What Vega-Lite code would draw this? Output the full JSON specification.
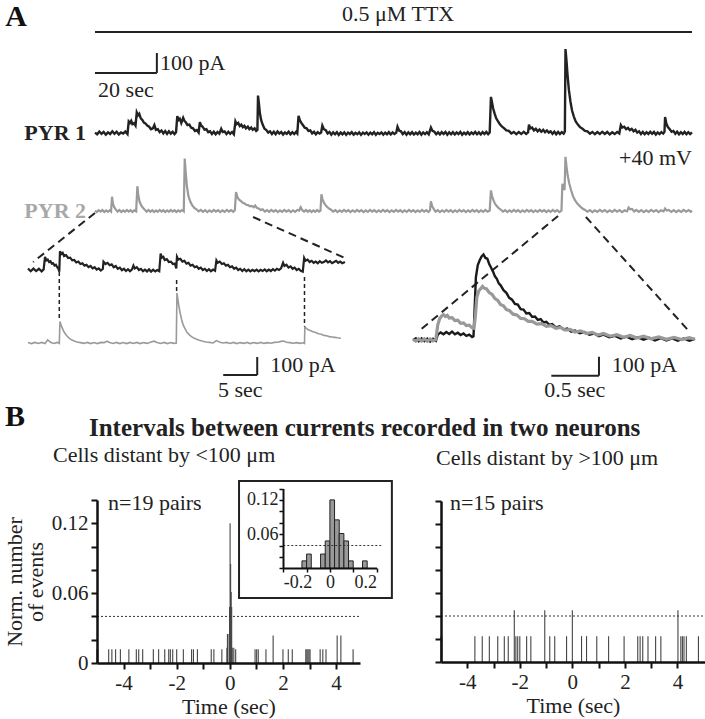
{
"$schema": "https://vega.github.io/schema/vega-lite/v6.json",
"width": 705, "height": 719, "autosize": {"type": "none"}, "padding": 0, "background": "white",
"config": {"view": {"stroke": null}, "font": "Liberation Serif",
  "axis": {"grid": false, "zindex": 1, "domainColor": "#111", "tickColor": "#111", "labelColor": "#222", "titleColor": "#222", "labelFont": "Liberation Serif", "titleFont": "Liberation Serif", "titleFontWeight": "normal"}},
"resolve": {"scale": {"x": "independent", "y": "independent"}},
"layer": [
{
 "encoding": {
  "x": {"field": "t", "type": "quantitative", "scale": {"domain": [0, 193], "range": [95, 692], "nice": false, "zero": false}, "axis": null},
  "y": {"field": "v", "type": "quantitative", "scale": {"domain": [0, 400], "range": [133, 49], "nice": false, "zero": false}, "axis": null}
 },
 "layer": [
  {"data": {"values": [
{"t":0,"v":2},{"t":0.7,"v":-6},{"t":1.4,"v":7},{"t":2.1,"v":-4},{"t":2.8,"v":5},{"t":3.5,"v":-8},{"t":4.2,"v":3},{"t":4.9,"v":-5},{"t":5.6,"v":8},{"t":6.3,"v":-4},{"t":7,"v":6},{"t":7.7,"v":-7},{"t":8.4,"v":3},{"t":9.1,"v":-3},{"t":9.8,"v":7},{"t":10.5,"v":-5},{"t":10.9,"v":55},{"t":11.3,"v":48},{"t":11.7,"v":58},{"t":12.1,"v":42},{"t":12.6,"v":47},{"t":13.1,"v":35},{"t":13.5,"v":98},{"t":13.9,"v":85},{"t":14.3,"v":92},{"t":14.8,"v":70},{"t":15.3,"v":62},{"t":15.8,"v":50},{"t":16.3,"v":46},{"t":16.9,"v":35},{"t":17.5,"v":30},{"t":18.1,"v":18},{"t":18.7,"v":22},{"t":19.2,"v":38},{"t":19.7,"v":15},{"t":20.3,"v":18},{"t":20.9,"v":4},{"t":21.5,"v":12},{"t":22.1,"v":-2},{"t":22.7,"v":9},{"t":23.3,"v":-4},{"t":23.9,"v":8},{"t":24.5,"v":-3},{"t":25.1,"v":6},{"t":25.7,"v":-5},{"t":26.2,"v":4},{"t":26.6,"v":80},{"t":27,"v":62},{"t":27.4,"v":68},{"t":27.9,"v":48},{"t":28.5,"v":72},{"t":28.9,"v":58},{"t":29.4,"v":50},{"t":29.9,"v":38},{"t":30.5,"v":40},{"t":31.1,"v":25},{"t":31.7,"v":22},{"t":32.3,"v":10},{"t":32.9,"v":14},{"t":33.5,"v":2},{"t":33.9,"v":52},{"t":34.3,"v":36},{"t":34.8,"v":30},{"t":35.4,"v":16},{"t":36,"v":18},{"t":36.6,"v":4},{"t":37.2,"v":8},{"t":37.8,"v":-5},{"t":38.4,"v":6},{"t":39,"v":-6},{"t":39.6,"v":5},{"t":40.2,"v":-3},{"t":40.8,"v":20},{"t":41.3,"v":5},{"t":41.9,"v":8},{"t":42.5,"v":-5},{"t":43.1,"v":6},{"t":43.7,"v":-4},{"t":44.3,"v":5},{"t":44.9,"v":-6},{"t":45.4,"v":55},{"t":45.8,"v":42},{"t":46.3,"v":48},{"t":46.8,"v":33},{"t":47.3,"v":40},{"t":47.8,"v":28},{"t":48.3,"v":34},{"t":48.8,"v":22},{"t":49.4,"v":30},{"t":49.9,"v":18},{"t":50.5,"v":26},{"t":51,"v":15},{"t":51.6,"v":22},{"t":52.1,"v":10},{"t":52.5,"v":15},{"t":52.7,"v":178},{"t":53,"v":140},{"t":53.3,"v":95},{"t":53.7,"v":62},{"t":54.2,"v":40},{"t":54.8,"v":20},{"t":55.4,"v":14},{"t":56,"v":2},{"t":56.6,"v":8},{"t":57.2,"v":-5},{"t":57.8,"v":6},{"t":58.4,"v":-6},{"t":59,"v":7},{"t":59.6,"v":-3},{"t":60.2,"v":5},{"t":60.8,"v":-7},{"t":61.4,"v":3},{"t":62,"v":-4},{"t":62.6,"v":6},{"t":63.2,"v":-6},{"t":63.8,"v":4},{"t":64.4,"v":-5},{"t":65,"v":5},{"t":65.4,"v":-2},{"t":65.8,"v":82},{"t":66.2,"v":62},{"t":66.7,"v":48},{"t":67.2,"v":38},{"t":67.8,"v":25},{"t":68.4,"v":22},{"t":69,"v":10},{"t":69.6,"v":12},{"t":70.2,"v":-2},{"t":70.8,"v":6},{"t":71.4,"v":-6},{"t":72,"v":4},{"t":72.6,"v":-3},{"t":73.1,"v":2},{"t":73.5,"v":35},{"t":74,"v":18},{"t":74.6,"v":14},{"t":75.2,"v":-2},{"t":75.8,"v":5},{"t":76.4,"v":-8},{"t":77,"v":3},{"t":77.6,"v":-6},{"t":78.2,"v":4},{"t":78.8,"v":-9},{"t":79.4,"v":2},{"t":80,"v":-6},{"t":80.6,"v":3},{"t":81.2,"v":-9},{"t":81.8,"v":2},{"t":82.4,"v":-5},{"t":83,"v":4},{"t":83.6,"v":-8},{"t":84.2,"v":1},{"t":84.8,"v":-6},{"t":85.4,"v":3},{"t":86,"v":-9},{"t":86.6,"v":2},{"t":87.2,"v":-5},{"t":87.8,"v":3},{"t":88.4,"v":-8},{"t":89,"v":2},{"t":89.6,"v":-6},{"t":90.2,"v":4},{"t":90.8,"v":-9},{"t":91.4,"v":1},{"t":92,"v":-5},{"t":92.6,"v":3},{"t":93.2,"v":-8},{"t":93.8,"v":2},{"t":94.4,"v":-6},{"t":95,"v":4},{"t":95.6,"v":-7},{"t":96.2,"v":3},{"t":96.8,"v":-5},{"t":97.4,"v":2},{"t":97.8,"v":30},{"t":98.3,"v":12},{"t":98.9,"v":8},{"t":99.5,"v":-5},{"t":100.1,"v":4},{"t":100.7,"v":-8},{"t":101.3,"v":3},{"t":101.9,"v":-6},{"t":102.5,"v":4},{"t":103.1,"v":-7},{"t":103.7,"v":2},{"t":104.3,"v":-6},{"t":104.9,"v":5},{"t":105.5,"v":-8},{"t":106.1,"v":3},{"t":106.7,"v":-5},{"t":107.3,"v":4},{"t":107.9,"v":-6},{"t":108.6,"v":26},{"t":109.1,"v":10},{"t":109.7,"v":6},{"t":110.3,"v":-6},{"t":110.9,"v":3},{"t":111.5,"v":-7},{"t":112.1,"v":4},{"t":112.7,"v":-5},{"t":113.3,"v":5},{"t":113.9,"v":-8},{"t":114.5,"v":3},{"t":115.1,"v":-6},{"t":115.7,"v":4},{"t":116.3,"v":-7},{"t":116.9,"v":3},{"t":117.5,"v":-5},{"t":118.1,"v":5},{"t":118.7,"v":-8},{"t":119.3,"v":2},{"t":119.9,"v":-6},{"t":120.5,"v":4},{"t":121.1,"v":-7},{"t":121.7,"v":3},{"t":122.3,"v":-5},{"t":122.9,"v":5},{"t":123.5,"v":-6},{"t":124.1,"v":3},{"t":124.7,"v":-7},{"t":125.3,"v":4},{"t":125.9,"v":-5},{"t":126.5,"v":5},{"t":127.1,"v":-6},{"t":127.6,"v":2},{"t":128,"v":172},{"t":128.3,"v":150},{"t":128.7,"v":118},{"t":129.2,"v":92},{"t":129.7,"v":70},{"t":130.3,"v":55},{"t":130.9,"v":42},{"t":131.6,"v":30},{"t":132.3,"v":22},{"t":133,"v":12},{"t":133.8,"v":10},{"t":134.6,"v":-2},{"t":135.4,"v":5},{"t":136.2,"v":-6},{"t":137,"v":4},{"t":137.8,"v":-5},{"t":138.6,"v":6},{"t":139.4,"v":-4},{"t":140,"v":3},{"t":140.3,"v":40},{"t":140.7,"v":22},{"t":141.3,"v":26},{"t":141.9,"v":12},{"t":142.5,"v":20},{"t":143.1,"v":8},{"t":143.7,"v":17},{"t":144.3,"v":6},{"t":144.9,"v":15},{"t":145.5,"v":4},{"t":146.1,"v":12},{"t":146.7,"v":2},{"t":147.3,"v":8},{"t":147.9,"v":-4},{"t":148.5,"v":6},{"t":149.1,"v":-6},{"t":149.7,"v":5},{"t":150.3,"v":-5},{"t":150.9,"v":4},{"t":151.5,"v":-3},{"t":151.9,"v":8},{"t":152.1,"v":400},{"t":152.4,"v":350},{"t":152.8,"v":270},{"t":153.2,"v":205},{"t":153.7,"v":150},{"t":154.2,"v":108},{"t":154.8,"v":78},{"t":155.4,"v":55},{"t":156.1,"v":40},{"t":156.8,"v":28},{"t":157.6,"v":20},{"t":158.4,"v":10},{"t":159.2,"v":8},{"t":160,"v":-3},{"t":160.8,"v":5},{"t":161.6,"v":-6},{"t":162.4,"v":4},{"t":163.2,"v":-5},{"t":164,"v":6},{"t":164.8,"v":-4},{"t":165.6,"v":5},{"t":166.4,"v":-7},{"t":167.2,"v":3},{"t":168,"v":-5},{"t":168.8,"v":5},{"t":169.5,"v":-2},{"t":170,"v":38},{"t":170.5,"v":26},{"t":171.1,"v":30},{"t":171.7,"v":18},{"t":172.3,"v":24},{"t":172.9,"v":14},{"t":173.5,"v":20},{"t":174.1,"v":8},{"t":174.7,"v":15},{"t":175.3,"v":2},{"t":175.9,"v":8},{"t":176.5,"v":-5},{"t":177.1,"v":5},{"t":177.7,"v":-6},{"t":178.3,"v":4},{"t":178.9,"v":-5},{"t":179.5,"v":6},{"t":180.1,"v":-4},{"t":180.7,"v":5},{"t":181.3,"v":-7},{"t":181.9,"v":3},{"t":182.5,"v":-5},{"t":183.1,"v":4},{"t":183.7,"v":-3},{"t":184.1,"v":5},{"t":184.3,"v":76},{"t":184.7,"v":45},{"t":185.2,"v":28},{"t":185.8,"v":18},{"t":186.4,"v":6},{"t":187,"v":10},{"t":187.6,"v":-4},{"t":188.2,"v":6},{"t":188.8,"v":-6},{"t":189.4,"v":4},{"t":190,"v":-5},{"t":190.6,"v":5},{"t":191.2,"v":-6},{"t":191.8,"v":4},{"t":192.4,"v":-5},{"t":193,"v":3}
  ]}, "mark": {"type": "line", "color": "#222", "strokeWidth": 2.4}},
  {"data": {"values": [{"t": 0, "v": 481, "t2": 193, "v2": 481}, {"t": 0, "v": 286, "t2": 20, "v2": 286}, {"t": 20, "v": 286, "t2": 20, "v2": 381}]},
   "mark": {"type": "rule", "color": "#222", "strokeWidth": 2}, "encoding": {"x2": {"field": "t2"}, "y2": {"field": "v2"}}},
  {"data": {"values": [{"t": -29, "v": 552, "label": "A"}]}, "mark": {"type": "text", "font": "Liberation Serif", "fontSize": 30, "fontWeight": "bold", "align": "left", "baseline": "middle", "color": "#111"}, "encoding": {"text": {"field": "label"}}},
  {"data": {"values": [{"t": 98, "v": 567, "label": "0.5 μM TTX"}]}, "mark": {"type": "text", "font": "Liberation Serif", "fontSize": 22, "align": "center", "baseline": "middle", "color": "#222"}, "encoding": {"text": {"field": "label"}}},
  {"data": {"values": [{"t": 21, "v": 333, "label": "100 pA"}, {"t": 1, "v": 205, "label": "20 sec"}]}, "mark": {"type": "text", "font": "Liberation Serif", "fontSize": 22, "align": "left", "baseline": "middle", "color": "#222"}, "encoding": {"text": {"field": "label"}}},
  {"data": {"values": [{"t": -2.9, "v": 0, "label": "PYR 1"}]}, "mark": {"type": "text", "font": "Liberation Serif", "fontSize": 22, "fontWeight": "bold", "align": "right", "baseline": "middle", "color": "#222"}, "encoding": {"text": {"field": "label"}}},
  {"data": {"values": [{"t": 193, "v": -119, "label": "+40 mV"}]}, "mark": {"type": "text", "font": "Liberation Serif", "fontSize": 22, "align": "right", "baseline": "middle", "color": "#222"}, "encoding": {"text": {"field": "label"}}}
 ]
},
{
 "encoding": {
  "x": {"field": "t", "type": "quantitative", "scale": {"domain": [0, 193], "range": [95, 692], "nice": false, "zero": false}, "axis": null},
  "y": {"field": "v", "type": "quantitative", "scale": {"domain": [0, 400], "range": [211, 127], "nice": false, "zero": false}, "axis": null}
 },
 "layer": [
  {"data": {"values": [
{"t":0,"v":2},{"t":0.6,"v":-5},{"t":1.2,"v":4},{"t":1.8,"v":-3},{"t":2.4,"v":5},{"t":3,"v":-5},{"t":3.6,"v":3},{"t":4.2,"v":-4},{"t":4.8,"v":4},{"t":5.2,"v":-2},{"t":5.5,"v":68},{"t":5.8,"v":35},{"t":6.2,"v":18},{"t":6.7,"v":8},{"t":7.3,"v":-3},{"t":7.9,"v":5},{"t":8.5,"v":-5},{"t":9.1,"v":3},{"t":9.7,"v":-4},{"t":10.3,"v":5},{"t":10.9,"v":-3},{"t":11.5,"v":4},{"t":12.1,"v":-5},{"t":12.7,"v":3},{"t":13.3,"v":-2},{"t":13.7,"v":118},{"t":14,"v":75},{"t":14.4,"v":45},{"t":14.9,"v":28},{"t":15.5,"v":15},{"t":16.1,"v":6},{"t":16.7,"v":-3},{"t":17.3,"v":5},{"t":17.9,"v":-4},{"t":18.5,"v":4},{"t":19.1,"v":-5},{"t":19.7,"v":3},{"t":20.3,"v":-4},{"t":20.9,"v":5},{"t":21.5,"v":-3},{"t":22.1,"v":4},{"t":22.7,"v":-5},{"t":23.3,"v":3},{"t":23.9,"v":-4},{"t":24.5,"v":5},{"t":25.1,"v":-3},{"t":25.7,"v":4},{"t":26.3,"v":-5},{"t":26.9,"v":3},{"t":27.5,"v":-3},{"t":28.1,"v":4},{"t":28.7,"v":-2},{"t":29,"v":250},{"t":29.3,"v":190},{"t":29.7,"v":120},{"t":30.2,"v":72},{"t":30.8,"v":45},{"t":31.4,"v":28},{"t":32.1,"v":15},{"t":32.8,"v":8},{"t":33.5,"v":-2},{"t":34.2,"v":5},{"t":34.9,"v":-4},{"t":35.6,"v":4},{"t":36.3,"v":-5},{"t":37,"v":3},{"t":37.7,"v":-4},{"t":38.4,"v":5},{"t":39.1,"v":-3},{"t":39.8,"v":4},{"t":40.5,"v":-5},{"t":41.2,"v":3},{"t":41.9,"v":-4},{"t":42.6,"v":5},{"t":43.3,"v":-3},{"t":44,"v":4},{"t":44.7,"v":-4},{"t":45.2,"v":3},{"t":45.6,"v":90},{"t":46,"v":68},{"t":46.5,"v":55},{"t":47.1,"v":48},{"t":47.7,"v":40},{"t":48.3,"v":36},{"t":48.9,"v":30},{"t":49.5,"v":28},{"t":50.1,"v":22},{"t":50.7,"v":24},{"t":51.3,"v":18},{"t":51.8,"v":26},{"t":52.3,"v":15},{"t":52.9,"v":12},{"t":53.5,"v":5},{"t":54.2,"v":8},{"t":54.9,"v":-3},{"t":55.6,"v":4},{"t":56.3,"v":-4},{"t":57,"v":5},{"t":57.7,"v":-3},{"t":58.4,"v":4},{"t":59.1,"v":-5},{"t":59.8,"v":3},{"t":60.5,"v":-4},{"t":61.2,"v":5},{"t":61.9,"v":-3},{"t":62.6,"v":4},{"t":63.3,"v":-5},{"t":64,"v":3},{"t":64.7,"v":-4},{"t":65.4,"v":5},{"t":66,"v":2},{"t":66.5,"v":18},{"t":67,"v":4},{"t":67.6,"v":-3},{"t":68.2,"v":5},{"t":68.8,"v":-4},{"t":69.4,"v":4},{"t":70,"v":-5},{"t":70.6,"v":3},{"t":71.2,"v":-4},{"t":71.8,"v":5},{"t":72.4,"v":-3},{"t":72.9,"v":2},{"t":73.2,"v":80},{"t":73.5,"v":58},{"t":73.9,"v":42},{"t":74.4,"v":30},{"t":75,"v":20},{"t":75.6,"v":12},{"t":76.3,"v":6},{"t":77,"v":-3},{"t":77.7,"v":4},{"t":78.4,"v":-5},{"t":79.1,"v":3},{"t":79.8,"v":-4},{"t":80.5,"v":5},{"t":81.2,"v":-3},{"t":81.9,"v":4},{"t":82.6,"v":-5},{"t":83.3,"v":3},{"t":84,"v":-4},{"t":84.7,"v":5},{"t":85.4,"v":-3},{"t":86.1,"v":4},{"t":86.8,"v":-5},{"t":87.5,"v":3},{"t":88.2,"v":-4},{"t":88.9,"v":5},{"t":89.6,"v":-3},{"t":90.3,"v":4},{"t":91,"v":-5},{"t":91.7,"v":3},{"t":92.4,"v":-4},{"t":93.1,"v":5},{"t":93.8,"v":-3},{"t":94.5,"v":4},{"t":95.2,"v":-5},{"t":95.9,"v":3},{"t":96.6,"v":-4},{"t":97.3,"v":5},{"t":98,"v":-3},{"t":98.7,"v":4},{"t":99.4,"v":-5},{"t":100.1,"v":3},{"t":100.8,"v":-4},{"t":101.5,"v":5},{"t":102.2,"v":-3},{"t":102.9,"v":4},{"t":103.6,"v":-5},{"t":104.3,"v":3},{"t":105,"v":-4},{"t":105.7,"v":5},{"t":106.4,"v":-3},{"t":107.1,"v":4},{"t":107.8,"v":-5},{"t":108.3,"v":3},{"t":108.6,"v":46},{"t":109,"v":22},{"t":109.5,"v":10},{"t":110.1,"v":-3},{"t":110.8,"v":4},{"t":111.5,"v":-5},{"t":112.2,"v":3},{"t":112.9,"v":-4},{"t":113.6,"v":5},{"t":114.3,"v":-3},{"t":115,"v":4},{"t":115.7,"v":-5},{"t":116.4,"v":3},{"t":117.1,"v":-4},{"t":117.8,"v":5},{"t":118.5,"v":-3},{"t":119.2,"v":4},{"t":119.9,"v":-5},{"t":120.6,"v":3},{"t":121.3,"v":-4},{"t":122,"v":5},{"t":122.7,"v":-3},{"t":123.4,"v":4},{"t":124.1,"v":-5},{"t":124.8,"v":3},{"t":125.5,"v":-4},{"t":126.2,"v":5},{"t":126.9,"v":-3},{"t":127.6,"v":2},{"t":128,"v":98},{"t":128.3,"v":75},{"t":128.7,"v":55},{"t":129.2,"v":38},{"t":129.8,"v":25},{"t":130.5,"v":14},{"t":131.2,"v":6},{"t":131.9,"v":-3},{"t":132.6,"v":4},{"t":133.3,"v":-5},{"t":134,"v":3},{"t":134.7,"v":-4},{"t":135.4,"v":5},{"t":136.1,"v":-3},{"t":136.8,"v":4},{"t":137.5,"v":-5},{"t":138.2,"v":3},{"t":138.9,"v":-4},{"t":139.6,"v":5},{"t":140.3,"v":-3},{"t":141,"v":4},{"t":141.7,"v":-5},{"t":142.4,"v":3},{"t":143.1,"v":-4},{"t":143.8,"v":5},{"t":144.5,"v":-3},{"t":145.2,"v":4},{"t":145.9,"v":-5},{"t":146.6,"v":3},{"t":147.3,"v":-4},{"t":148,"v":5},{"t":148.7,"v":-3},{"t":149.4,"v":4},{"t":150.1,"v":-5},{"t":150.8,"v":2},{"t":151.1,"v":130},{"t":151.4,"v":112},{"t":151.8,"v":100},{"t":152.1,"v":258},{"t":152.4,"v":215},{"t":152.8,"v":170},{"t":153.3,"v":132},{"t":153.9,"v":100},{"t":154.5,"v":72},{"t":155.2,"v":50},{"t":156,"v":34},{"t":156.8,"v":22},{"t":157.6,"v":12},{"t":158.4,"v":5},{"t":159.2,"v":-3},{"t":160,"v":4},{"t":160.8,"v":-5},{"t":161.6,"v":3},{"t":162.4,"v":-4},{"t":163.2,"v":5},{"t":164,"v":-3},{"t":164.8,"v":4},{"t":165.6,"v":-5},{"t":166.4,"v":3},{"t":167.2,"v":-4},{"t":168,"v":5},{"t":168.8,"v":-3},{"t":169.6,"v":4},{"t":170.4,"v":-5},{"t":171.2,"v":3},{"t":172,"v":-2},{"t":172.5,"v":16},{"t":173,"v":8},{"t":173.6,"v":10},{"t":174.3,"v":-2},{"t":175,"v":5},{"t":175.8,"v":-4},{"t":176.6,"v":4},{"t":177.4,"v":-5},{"t":178.2,"v":3},{"t":179,"v":-4},{"t":179.8,"v":5},{"t":180.6,"v":-3},{"t":181.4,"v":4},{"t":182.2,"v":-5},{"t":183,"v":3},{"t":183.8,"v":-2},{"t":184.3,"v":12},{"t":184.8,"v":2},{"t":185.5,"v":5},{"t":186.3,"v":-4},{"t":187.1,"v":4},{"t":187.9,"v":-5},{"t":188.7,"v":3},{"t":189.5,"v":-4},{"t":190.3,"v":5},{"t":191.1,"v":-3},{"t":191.9,"v":4},{"t":192.6,"v":-4},{"t":193,"v":2}
  ]}, "mark": {"type": "line", "color": "#9a9a9a", "strokeWidth": 2.2}},
  {"data": {"values": [{"t": 0, "v": -9.5, "t2": -20, "v2": -243}, {"t": 51.1, "v": -28.6, "t2": 80.8, "v2": -224}, {"t": 149.7, "v": -23.8, "t2": 105.1, "v2": -567}, {"t": 158.7, "v": -28.6, "t2": 191.7, "v2": -567}]},
   "mark": {"type": "rule", "color": "#222", "strokeWidth": 2, "strokeDash": [8, 5]}, "encoding": {"x2": {"field": "t2"}, "y2": {"field": "v2"}}},
  {"data": {"values": [{"t": -2.9, "v": 0, "label": "PYR 2"}]}, "mark": {"type": "text", "font": "Liberation Serif", "fontSize": 22, "fontWeight": "bold", "align": "right", "baseline": "middle", "color": "#a8a8a8"}, "encoding": {"text": {"field": "label"}}}
 ]
},
{
 "encoding": {
  "x": {"field": "t", "type": "quantitative", "scale": {"domain": [0, 46.9], "range": [28, 347], "nice": false, "zero": false}, "axis": null},
  "y": {"field": "v", "type": "quantitative", "scale": {"domain": [0, 300], "range": [270, 210], "nice": false, "zero": false}, "axis": null}
 },
 "layer": [
  {"data": {"values": [
{"t":0,"v":8},{"t":0.4,"v":-6},{"t":0.8,"v":7},{"t":1.2,"v":-5},{"t":1.6,"v":6},{"t":2,"v":-7},{"t":2.3,"v":3},{"t":2.5,"v":66},{"t":2.7,"v":48},{"t":2.9,"v":52},{"t":3.1,"v":40},{"t":3.3,"v":44},{"t":3.5,"v":32},{"t":3.7,"v":34},{"t":3.9,"v":22},{"t":4.1,"v":26},{"t":4.3,"v":14},{"t":4.5,"v":4},{"t":4.6,"v":-8},{"t":4.7,"v":94},{"t":4.9,"v":80},{"t":5.1,"v":86},{"t":5.3,"v":70},{"t":5.6,"v":74},{"t":5.9,"v":60},{"t":6.2,"v":62},{"t":6.5,"v":48},{"t":6.8,"v":50},{"t":7.1,"v":38},{"t":7.4,"v":42},{"t":7.7,"v":30},{"t":8,"v":34},{"t":8.3,"v":22},{"t":8.6,"v":26},{"t":8.9,"v":14},{"t":9.2,"v":20},{"t":9.5,"v":8},{"t":9.8,"v":14},{"t":10.1,"v":2},{"t":10.4,"v":8},{"t":10.7,"v":-3},{"t":11,"v":5},{"t":11.1,"v":42},{"t":11.4,"v":30},{"t":11.7,"v":36},{"t":12,"v":24},{"t":12.3,"v":28},{"t":12.6,"v":14},{"t":12.9,"v":20},{"t":13.2,"v":6},{"t":13.5,"v":12},{"t":13.8,"v":-1},{"t":14.1,"v":6},{"t":14.4,"v":-5},{"t":14.7,"v":4},{"t":15,"v":-6},{"t":15.3,"v":3},{"t":15.5,"v":22},{"t":15.7,"v":8},{"t":16,"v":14},{"t":16.3,"v":0},{"t":16.6,"v":6},{"t":16.9,"v":-6},{"t":17.2,"v":2},{"t":17.5,"v":-7},{"t":17.8,"v":3},{"t":18.1,"v":-8},{"t":18.4,"v":1},{"t":18.7,"v":-7},{"t":19,"v":0},{"t":19.3,"v":-6},{"t":19.5,"v":82},{"t":19.7,"v":62},{"t":19.9,"v":66},{"t":20.1,"v":50},{"t":20.4,"v":54},{"t":20.7,"v":40},{"t":21,"v":42},{"t":21.3,"v":30},{"t":21.6,"v":32},{"t":21.8,"v":8},{"t":21.9,"v":66},{"t":22.1,"v":52},{"t":22.4,"v":56},{"t":22.7,"v":42},{"t":23,"v":46},{"t":23.3,"v":32},{"t":23.6,"v":36},{"t":23.9,"v":22},{"t":24.2,"v":26},{"t":24.5,"v":14},{"t":24.8,"v":18},{"t":25.1,"v":6},{"t":25.4,"v":12},{"t":25.7,"v":0},{"t":26,"v":6},{"t":26.3,"v":-5},{"t":26.6,"v":4},{"t":26.9,"v":-6},{"t":27.2,"v":2},{"t":27.5,"v":-4},{"t":27.7,"v":48},{"t":27.9,"v":36},{"t":28.2,"v":42},{"t":28.5,"v":30},{"t":28.8,"v":34},{"t":29.1,"v":22},{"t":29.4,"v":26},{"t":29.7,"v":14},{"t":30,"v":18},{"t":30.3,"v":6},{"t":30.6,"v":12},{"t":30.9,"v":0},{"t":31.2,"v":6},{"t":31.5,"v":-5},{"t":31.8,"v":4},{"t":32.1,"v":-6},{"t":32.4,"v":2},{"t":32.7,"v":-7},{"t":33,"v":1},{"t":33.3,"v":-6},{"t":33.6,"v":2},{"t":33.9,"v":-7},{"t":34.2,"v":1},{"t":34.5,"v":-5},{"t":34.8,"v":3},{"t":35.1,"v":-6},{"t":35.4,"v":2},{"t":35.7,"v":-5},{"t":36,"v":4},{"t":36.3,"v":-3},{"t":36.6,"v":6},{"t":36.9,"v":0},{"t":37.2,"v":8},{"t":37.5,"v":36},{"t":37.7,"v":20},{"t":38,"v":26},{"t":38.3,"v":12},{"t":38.6,"v":18},{"t":38.9,"v":6},{"t":39.2,"v":12},{"t":39.5,"v":0},{"t":39.8,"v":6},{"t":40.1,"v":-4},{"t":40.4,"v":-8},{"t":40.6,"v":60},{"t":40.8,"v":46},{"t":41.1,"v":52},{"t":41.4,"v":40},{"t":41.7,"v":46},{"t":42,"v":36},{"t":42.3,"v":42},{"t":42.6,"v":34},{"t":42.9,"v":44},{"t":43.2,"v":36},{"t":43.5,"v":40},{"t":43.8,"v":48},{"t":44.1,"v":38},{"t":44.4,"v":44},{"t":44.7,"v":34},{"t":45,"v":40},{"t":45.3,"v":46},{"t":45.6,"v":36},{"t":45.9,"v":42},{"t":46.2,"v":34},{"t":46.6,"v":40}
  ]}, "mark": {"type": "line", "color": "#222", "strokeWidth": 2.2}}
 ]
},
{
 "encoding": {
  "x": {"field": "t", "type": "quantitative", "scale": {"domain": [0, 46.9], "range": [28, 347], "nice": false, "zero": false}, "axis": null},
  "y": {"field": "v", "type": "quantitative", "scale": {"domain": [0, 300], "range": [343, 283], "nice": false, "zero": false}, "axis": null}
 },
 "layer": [
  {"data": {"values": [
{"t":0,"v":2},{"t":0.5,"v":-3},{"t":1,"v":3},{"t":1.5,"v":-2},{"t":2,"v":3},{"t":2.5,"v":-3},{"t":2.9,"v":15},{"t":3.3,"v":4},{"t":3.8,"v":-2},{"t":4.3,"v":3},{"t":4.6,"v":-2},{"t":4.7,"v":108},{"t":4.85,"v":92},{"t":5,"v":78},{"t":5.2,"v":62},{"t":5.4,"v":50},{"t":5.7,"v":36},{"t":6,"v":26},{"t":6.4,"v":16},{"t":6.8,"v":10},{"t":7.2,"v":5},{"t":7.7,"v":2},{"t":8.2,"v":-2},{"t":8.7,"v":3},{"t":9.2,"v":-3},{"t":9.7,"v":2},{"t":10.2,"v":-3},{"t":10.7,"v":3},{"t":11.2,"v":2},{"t":11.6,"v":9},{"t":12,"v":3},{"t":12.5,"v":-2},{"t":13,"v":3},{"t":13.5,"v":-3},{"t":14,"v":2},{"t":14.5,"v":-3},{"t":15,"v":3},{"t":15.5,"v":-2},{"t":16,"v":3},{"t":16.5,"v":-3},{"t":17,"v":2},{"t":17.5,"v":-2},{"t":18,"v":4},{"t":18.5,"v":9},{"t":19,"v":3},{"t":19.5,"v":-2},{"t":20,"v":3},{"t":20.5,"v":-3},{"t":21,"v":2},{"t":21.5,"v":-2},{"t":21.8,"v":0},{"t":21.9,"v":250},{"t":22.05,"v":215},{"t":22.2,"v":180},{"t":22.4,"v":145},{"t":22.6,"v":115},{"t":22.8,"v":92},{"t":23.1,"v":70},{"t":23.4,"v":52},{"t":23.8,"v":38},{"t":24.2,"v":28},{"t":24.7,"v":20},{"t":25.2,"v":14},{"t":25.7,"v":9},{"t":26.2,"v":5},{"t":26.7,"v":3},{"t":27.2,"v":0},{"t":27.7,"v":12},{"t":28.2,"v":4},{"t":28.7,"v":0},{"t":29.2,"v":3},{"t":29.7,"v":-2},{"t":30.2,"v":3},{"t":30.7,"v":-3},{"t":31.2,"v":2},{"t":31.7,"v":-2},{"t":32.2,"v":3},{"t":32.7,"v":-3},{"t":33.2,"v":2},{"t":33.7,"v":-2},{"t":34.2,"v":3},{"t":34.7,"v":-2},{"t":35.2,"v":2},{"t":35.7,"v":-1},{"t":36.2,"v":3},{"t":36.7,"v":4},{"t":37.2,"v":8},{"t":37.6,"v":10},{"t":38,"v":4},{"t":38.5,"v":2},{"t":39,"v":-1},{"t":39.5,"v":2},{"t":40,"v":-2},{"t":40.5,"v":1},{"t":40.65,"v":-2},{"t":40.7,"v":80},{"t":40.9,"v":74},{"t":41.2,"v":66},{"t":41.5,"v":62},{"t":41.9,"v":56},{"t":42.3,"v":52},{"t":42.7,"v":46},{"t":43.1,"v":44},{"t":43.5,"v":38},{"t":43.9,"v":36},{"t":44.3,"v":32},{"t":44.7,"v":30},{"t":45.1,"v":28},{"t":45.5,"v":26},{"t":46,"v":24}
  ]}, "mark": {"type": "line", "color": "#9a9a9a", "strokeWidth": 1.6}},
  {"data": {"values": [{"t": 4.6, "v": 355, "t2": 4.6, "v2": 112}, {"t": 21.85, "v": 315, "t2": 21.85, "v2": 250}, {"t": 40.65, "v": 330, "t2": 40.65, "v2": 82}]},
   "mark": {"type": "rule", "color": "#222", "strokeWidth": 1.5, "strokeDash": [4, 3]}, "encoding": {"x2": {"field": "t2"}, "y2": {"field": "v2"}}},
  {"data": {"values": [{"t": 28.7, "v": -160, "t2": 33.7, "v2": -160}, {"t": 33.7, "v": -160, "t2": 33.7, "v2": -70}]},
   "mark": {"type": "rule", "color": "#222", "strokeWidth": 2}, "encoding": {"x2": {"field": "t2"}, "y2": {"field": "v2"}}},
  {"data": {"values": [{"t": 35.6, "v": -112, "label": "100 pA"}]}, "mark": {"type": "text", "font": "Liberation Serif", "fontSize": 22, "align": "left", "baseline": "middle", "color": "#222"}, "encoding": {"text": {"field": "label"}}},
  {"data": {"values": [{"t": 31.2, "v": -237, "label": "5 sec"}]}, "mark": {"type": "text", "font": "Liberation Serif", "fontSize": 22, "align": "center", "baseline": "middle", "color": "#222"}, "encoding": {"text": {"field": "label"}}}
 ]
},
{
 "encoding": {
  "x": {"field": "t", "type": "quantitative", "scale": {"domain": [0, 2.96], "range": [413, 695], "nice": false, "zero": false}, "axis": null},
  "y": {"field": "v", "type": "quantitative", "scale": {"domain": [0, 500], "range": [340, 245], "nice": false, "zero": false}, "axis": null}
 },
 "layer": [
  {"data": {"values": [
{"t":0,"v":0},{"t":0.03,"v":9},{"t":0.06,"v":-7},{"t":0.09,"v":8},{"t":0.12,"v":-6},{"t":0.15,"v":7},{"t":0.18,"v":-8},{"t":0.21,"v":6},{"t":0.24,"v":-4},{"t":0.26,"v":28},{"t":0.29,"v":40},{"t":0.32,"v":30},{"t":0.35,"v":42},{"t":0.38,"v":32},{"t":0.41,"v":44},{"t":0.44,"v":30},{"t":0.47,"v":38},{"t":0.5,"v":26},{"t":0.53,"v":34},{"t":0.56,"v":22},{"t":0.59,"v":28},{"t":0.62,"v":16},{"t":0.635,"v":20},{"t":0.645,"v":140},{"t":0.66,"v":330},{"t":0.68,"v":395},{"t":0.7,"v":420},{"t":0.72,"v":440},{"t":0.74,"v":450},{"t":0.76,"v":432},{"t":0.78,"v":428},{"t":0.8,"v":400},{"t":0.82,"v":380},{"t":0.84,"v":360},{"t":0.86,"v":335},{"t":0.88,"v":322},{"t":0.9,"v":298},{"t":0.92,"v":288},{"t":0.95,"v":262},{"t":0.98,"v":248},{"t":1.01,"v":222},{"t":1.04,"v":212},{"t":1.07,"v":190},{"t":1.1,"v":186},{"t":1.13,"v":162},{"t":1.16,"v":160},{"t":1.19,"v":140},{"t":1.22,"v":142},{"t":1.25,"v":122},{"t":1.28,"v":124},{"t":1.31,"v":106},{"t":1.34,"v":110},{"t":1.37,"v":92},{"t":1.4,"v":96},{"t":1.43,"v":80},{"t":1.46,"v":84},{"t":1.5,"v":66},{"t":1.54,"v":72},{"t":1.58,"v":56},{"t":1.62,"v":60},{"t":1.66,"v":44},{"t":1.7,"v":50},{"t":1.75,"v":36},{"t":1.8,"v":42},{"t":1.85,"v":28},{"t":1.9,"v":34},{"t":1.95,"v":20},{"t":2,"v":28},{"t":2.06,"v":14},{"t":2.12,"v":22},{"t":2.18,"v":8},{"t":2.24,"v":18},{"t":2.3,"v":4},{"t":2.36,"v":14},{"t":2.42,"v":2},{"t":2.48,"v":12},{"t":2.54,"v":-2},{"t":2.6,"v":10},{"t":2.66,"v":-3},{"t":2.72,"v":9},{"t":2.78,"v":-4},{"t":2.84,"v":8},{"t":2.9,"v":-4},{"t":2.96,"v":6}
  ]}, "mark": {"type": "line", "color": "#1a1a1a", "strokeWidth": 2.4}},
  {"data": {"values": [
{"t":0,"v":2},{"t":0.03,"v":-6},{"t":0.06,"v":6},{"t":0.09,"v":-5},{"t":0.12,"v":6},{"t":0.15,"v":-6},{"t":0.18,"v":5},{"t":0.21,"v":-5},{"t":0.24,"v":3},{"t":0.26,"v":80},{"t":0.28,"v":112},{"t":0.3,"v":126},{"t":0.32,"v":134},{"t":0.34,"v":124},{"t":0.36,"v":130},{"t":0.38,"v":116},{"t":0.41,"v":118},{"t":0.44,"v":102},{"t":0.47,"v":104},{"t":0.5,"v":88},{"t":0.53,"v":90},{"t":0.56,"v":76},{"t":0.59,"v":78},{"t":0.62,"v":64},{"t":0.64,"v":62},{"t":0.655,"v":130},{"t":0.67,"v":225},{"t":0.69,"v":258},{"t":0.71,"v":270},{"t":0.73,"v":282},{"t":0.75,"v":272},{"t":0.77,"v":270},{"t":0.8,"v":250},{"t":0.83,"v":240},{"t":0.86,"v":218},{"t":0.89,"v":208},{"t":0.92,"v":186},{"t":0.95,"v":180},{"t":0.98,"v":160},{"t":1.01,"v":156},{"t":1.05,"v":136},{"t":1.09,"v":132},{"t":1.13,"v":114},{"t":1.17,"v":112},{"t":1.21,"v":98},{"t":1.25,"v":98},{"t":1.3,"v":84},{"t":1.35,"v":86},{"t":1.4,"v":72},{"t":1.45,"v":76},{"t":1.5,"v":62},{"t":1.55,"v":66},{"t":1.6,"v":52},{"t":1.65,"v":56},{"t":1.7,"v":42},{"t":1.76,"v":48},{"t":1.82,"v":34},{"t":1.88,"v":40},{"t":1.94,"v":26},{"t":2,"v":34},{"t":2.07,"v":20},{"t":2.14,"v":28},{"t":2.21,"v":14},{"t":2.28,"v":24},{"t":2.35,"v":10},{"t":2.42,"v":20},{"t":2.5,"v":6},{"t":2.58,"v":16},{"t":2.66,"v":4},{"t":2.74,"v":14},{"t":2.82,"v":2},{"t":2.9,"v":12},{"t":2.96,"v":4}
  ]}, "mark": {"type": "line", "color": "#999", "strokeWidth": 3.2}},
  {"data": {"values": [{"t": 1.452, "v": -188, "t2": 1.952, "v2": -188}, {"t": 1.952, "v": -188, "t2": 1.952, "v2": -88}]},
   "mark": {"type": "rule", "color": "#222", "strokeWidth": 2}, "encoding": {"x2": {"field": "t2"}, "y2": {"field": "v2"}}},
  {"data": {"values": [{"t": 2.085, "v": -132, "label": "100 pA"}]}, "mark": {"type": "text", "font": "Liberation Serif", "fontSize": 22, "align": "left", "baseline": "middle", "color": "#222"}, "encoding": {"text": {"field": "label"}}},
  {"data": {"values": [{"t": 1.697, "v": -263, "label": "0.5 sec"}]}, "mark": {"type": "text", "font": "Liberation Serif", "fontSize": 22, "align": "center", "baseline": "middle", "color": "#222"}, "encoding": {"text": {"field": "label"}}}
 ]
},
{
 "encoding": {
  "x": {"field": "x", "type": "quantitative", "scale": {"domain": [-5, 4.9], "range": [97, 360], "nice": false, "zero": false},
        "axis": {"orient": "bottom", "offset": -56, "zindex": 1, "grid": false, "values": [-4, -3, -2, -1, 0, 1, 2, 3, 4], "labelExpr": "datum.value % 2 === 0 ? toString(datum.value) : ''", "labelFont": "Liberation Serif", "labelFontSize": 21, "labelColor": "#222", "tickSize": 6, "tickWidth": 2, "tickColor": "#111", "domainWidth": 2.5, "domainColor": "#111", "labelPadding": 3, "title": "Time (sec)", "titleFont": "Liberation Serif", "titleFontWeight": "normal", "titleFontSize": 22, "titleColor": "#222", "titlePadding": 3}},
  "y": {"field": "h", "type": "quantitative", "scale": {"domain": [0, 0.14], "range": [663, 500], "nice": false, "zero": false},
        "axis": {"orient": "left", "offset": -97, "zindex": 1, "grid": false, "values": [0, 0.02, 0.04, 0.06, 0.08, 0.1, 0.12, 0.14], "labelExpr": "datum.value == 0 ? '0' : datum.value == 0.06 ? '0.06' : datum.value == 0.12 ? '0.12' : ''", "labelFont": "Liberation Serif", "labelFontSize": 21, "labelColor": "#222", "tickSize": 6, "tickWidth": 2, "tickColor": "#111", "domainWidth": 2.5, "domainColor": "#111", "labelPadding": 3, "title": ["Norm.  number", "of events"], "titleFont": "Liberation Serif", "titleFontWeight": "normal", "titleFontSize": 22, "titleColor": "#222", "titleLineHeight": 21, "titlePadding": 4}}
 },
 "layer": [
  {"data": {"values": [
{"x":-5.0,"h":0.0118},{"x":-4.97,"h":0.0118},{"x":-4.56,"h":0.0118},{"x":-4.44,"h":0.0118},{"x":-4.3,"h":0.0118},{"x":-4.12,"h":0.0118},{"x":-3.8,"h":0.0118},{"x":-3.52,"h":0.0118},{"x":-3.43,"h":0.0118},{"x":-3.28,"h":0.0118},{"x":-2.88,"h":0.0118},{"x":-2.68,"h":0.0118},{"x":-2.45,"h":0.0118},{"x":-2.3,"h":0.0118},{"x":-2.24,"h":0.0118},{"x":-2.15,"h":0.0118},{"x":-2.0,"h":0.0118},{"x":-1.75,"h":0.0118},{"x":-1.44,"h":0.0118},{"x":-1.37,"h":0.0118},{"x":-1.22,"h":0.0118},{"x":-0.7,"h":0.0118},{"x":-0.6,"h":0.0118},{"x":-0.3,"h":0.0118},{"x":0.22,"h":0.0118},{"x":0.95,"h":0.0118},{"x":1.01,"h":0.0118},{"x":1.07,"h":0.0118},{"x":1.36,"h":0.0118},{"x":2.0,"h":0.0118},{"x":2.2,"h":0.0118},{"x":2.35,"h":0.0118},{"x":2.86,"h":0.0118},{"x":2.9,"h":0.0118},{"x":2.94,"h":0.0118},{"x":2.98,"h":0.0118},{"x":3.02,"h":0.0118},{"x":3.4,"h":0.0118},{"x":3.5,"h":0.0118},{"x":3.62,"h":0.0118},{"x":4.64,"h":0.0118},{"x":1.63,"h":0.0236},{"x":4.04,"h":0.0236},{"x":4.18,"h":0.0236},
{"x":-0.11,"h":0.013},{"x":-0.09,"h":0.025},{"x":-0.03,"h":0.025},{"x":-0.01,"h":0.048},{"x":0.01,"h":0.12},{"x":0.03,"h":0.085},{"x":0.05,"h":0.061},{"x":0.07,"h":0.048},{"x":0.09,"h":0.013},{"x":0.15,"h":0.013}
  ]}, "mark": {"type": "rule", "color": "#444", "strokeWidth": 1.1}, "encoding": {"y2": {"datum": 0}}},
  {"data": {"values": [{"x": -5, "h": 0.04, "x2": 4.9}]}, "mark": {"type": "rule", "color": "#333", "strokeWidth": 1, "strokeDash": [2, 2]}, "encoding": {"x2": {"field": "x2"}}},
  {"data": {"values": [{"x": -8.46, "h": 0.2113, "label": "B"}]}, "mark": {"type": "text", "font": "Liberation Serif", "fontSize": 30, "fontWeight": "bold", "align": "left", "baseline": "middle", "color": "#111"}, "encoding": {"text": {"field": "label"}}},
  {"data": {"values": [{"x": 5.075, "h": 0.2018, "label": "Intervals between currents recorded in two neurons"}]}, "mark": {"type": "text", "font": "Liberation Serif", "fontSize": 25, "fontWeight": "bold", "align": "center", "baseline": "middle", "color": "#222"}, "encoding": {"text": {"field": "label"}}},
  {"data": {"values": [{"x": -6.654, "h": 0.1786, "label": "Cells distant by <100 μm"}, {"x": -4.586, "h": 0.1374, "label": "n=19 pairs"}]}, "mark": {"type": "text", "font": "Liberation Serif", "fontSize": 22, "align": "left", "baseline": "middle", "color": "#222"}, "encoding": {"text": {"field": "label"}}}
 ]
},
{
 "encoding": {
  "x": {"field": "x", "type": "quantitative", "scale": {"domain": [-0.2, 0.2], "range": [283.3, 376.5], "nice": false, "zero": false},
        "axis": {"orient": "bottom", "offset": -151, "zindex": 2, "grid": false, "values": [-0.2, -0.1, 0, 0.1, 0.2], "labelExpr": "datum.value == -0.2 ? '-0.2' : datum.value == 0 ? '0' : datum.value == 0.2 ? '0.2' : ''", "labelFont": "Liberation Serif", "labelFontSize": 18, "labelColor": "#222", "tickSize": 4, "tickWidth": 1.5, "tickColor": "#111", "domainWidth": 2, "domainColor": "#111", "labelPadding": 1, "title": null}},
  "y": {"field": "h", "type": "quantitative", "scale": {"domain": [0, 0.14], "range": [568.3, 488.5], "nice": false, "zero": false},
        "axis": {"orient": "left", "offset": -283, "zindex": 2, "grid": false, "values": [0, 0.02, 0.04, 0.06, 0.08, 0.1, 0.12, 0.14], "labelExpr": "datum.value == 0.06 ? '0.06' : datum.value == 0.12 ? '0.12' : ''", "labelFont": "Liberation Serif", "labelFontSize": 18, "labelColor": "#222", "tickSize": 4, "tickWidth": 1.5, "tickColor": "#111", "domainWidth": 2, "domainColor": "#111", "labelPadding": 1, "title": null}}
 },
 "layer": [
  {"data": {"values": [{"x": -0.39, "x2": 0.266, "h": 0.153, "h2": -0.0523}]}, "mark": {"type": "rect", "fill": "white", "stroke": "#222", "strokeWidth": 2}, "encoding": {"x2": {"field": "x2"}, "y2": {"field": "h2"}}},
  {"data": {"values": [
{"x":-0.12,"x2":-0.1,"h":0.013},{"x":-0.1,"x2":-0.08,"h":0.025},{"x":-0.04,"x2":-0.02,"h":0.025},{"x":-0.02,"x2":0,"h":0.048},{"x":0,"x2":0.02,"h":0.12},{"x":0.02,"x2":0.04,"h":0.085},{"x":0.04,"x2":0.06,"h":0.061},{"x":0.06,"x2":0.08,"h":0.048},{"x":0.08,"x2":0.1,"h":0.013},{"x":0.14,"x2":0.16,"h":0.013}
  ]}, "mark": {"type": "rect", "fill": "#999", "stroke": "#222", "strokeWidth": 1}, "encoding": {"x2": {"field": "x2"}, "y2": {"datum": 0}}},
  {"data": {"values": [{"x": -0.2, "h": 0.04, "x2": 0.22}]}, "mark": {"type": "rule", "color": "#333", "strokeWidth": 1, "strokeDash": [2, 2]}, "encoding": {"x2": {"field": "x2"}}}
 ]
},
{
 "encoding": {
  "x": {"field": "x", "type": "quantitative", "scale": {"domain": [-5, 5.05], "range": [441, 705], "nice": false, "zero": false},
        "axis": {"orient": "bottom", "offset": -57, "zindex": 1, "grid": false, "values": [-4, -3, -2, -1, 0, 1, 2, 3, 4], "labelExpr": "datum.value % 2 === 0 ? toString(datum.value) : ''", "labelFont": "Liberation Serif", "labelFontSize": 21, "labelColor": "#222", "tickSize": 6, "tickWidth": 2, "tickColor": "#111", "domainWidth": 2.5, "domainColor": "#111", "labelPadding": 3, "title": "Time (sec)", "titleFont": "Liberation Serif", "titleFontWeight": "normal", "titleFontSize": 22, "titleColor": "#222", "titlePadding": 3}},
  "y": {"field": "h", "type": "quantitative", "scale": {"domain": [0, 0.14], "range": [662, 501], "nice": false, "zero": false},
        "axis": {"orient": "left", "offset": -441, "zindex": 1, "grid": false, "values": [0, 0.02, 0.04, 0.06, 0.08, 0.1, 0.12, 0.14], "labels": false, "tickSize": 6, "tickWidth": 2, "tickColor": "#111", "domainWidth": 2.5, "domainColor": "#111", "title": null}}
 },
 "layer": [
  {"data": {"values": [
{"x":-5.0,"h":0.0225},{"x":-4.97,"h":0.0225},{"x":-3.71,"h":0.0225},{"x":-3.43,"h":0.0225},{"x":-3.16,"h":0.0225},{"x":-2.84,"h":0.0225},{"x":-2.59,"h":0.0225},{"x":-2.44,"h":0.0225},{"x":-2.15,"h":0.0225},{"x":-2.08,"h":0.0225},{"x":-2.0,"h":0.0225},{"x":-1.74,"h":0.0225},{"x":-1.58,"h":0.0225},{"x":-0.86,"h":0.0225},{"x":-0.67,"h":0.0225},{"x":-0.22,"h":0.0225},{"x":0.35,"h":0.0225},{"x":0.54,"h":0.0225},{"x":0.93,"h":0.0225},{"x":1.38,"h":0.0225},{"x":1.97,"h":0.0225},{"x":2.49,"h":0.0225},{"x":2.58,"h":0.0225},{"x":2.68,"h":0.0225},{"x":2.88,"h":0.0225},{"x":3.17,"h":0.0225},{"x":3.37,"h":0.0225},{"x":4.13,"h":0.0225},{"x":4.19,"h":0.0225},{"x":4.25,"h":0.0225},{"x":4.34,"h":0.0225},{"x":4.8,"h":0.0225},
{"x":-2.21,"h":0.045},{"x":-1.05,"h":0.045},{"x":0.0,"h":0.045},{"x":4.02,"h":0.045}
  ]}, "mark": {"type": "rule", "color": "#444", "strokeWidth": 1.1}, "encoding": {"y2": {"datum": 0}}},
  {"data": {"values": [{"x": -5, "h": 0.04, "x2": 5.05}]}, "mark": {"type": "rule", "color": "#333", "strokeWidth": 1, "strokeDash": [2, 2]}, "encoding": {"x2": {"field": "x2"}}},
  {"data": {"values": [{"x": -5.19, "h": 0.1774, "label": "Cells distant by >100 μm"}, {"x": -4.66, "h": 0.138, "label": "n=15 pairs"}]}, "mark": {"type": "text", "font": "Liberation Serif", "fontSize": 22, "align": "left", "baseline": "middle", "color": "#222"}, "encoding": {"text": {"field": "label"}}}
 ]
}
]
}
